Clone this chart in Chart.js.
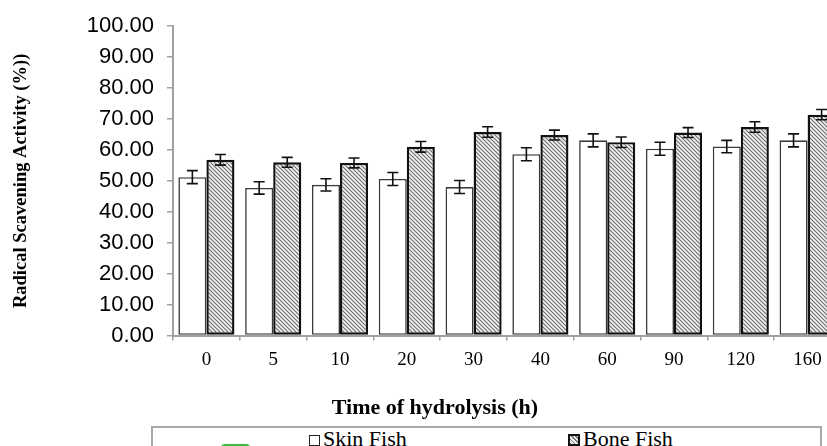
<!DOCTYPE html>
<html>
<head>
<meta charset="utf-8">
<script src="https://cdn.jsdelivr.net/npm/chart.js@4/dist/chart.umd.min.js"></script>
<style>
  html, body { margin: 0; padding: 0; background: #fff; width: 827px; height: 446px; overflow: hidden; }
  #wrap { position: absolute; left: 0; top: 0; width: 860px; height: 446px; }
  #xtitle { position: absolute; top: 394px; left: 235px; width: 400px; text-align: center;
            font: bold 22px "Liberation Serif", "Times New Roman", serif; line-height: 26px; color: #000; }
  #legend { position: absolute; left: 151px; top: 426px; width: 667px; height: 40px;
            border: 2px solid #a8a8a8; background: #fff; }
  .litem { position: absolute; top: -0.5px; font: 22px "Liberation Serif", "Times New Roman", serif;
           line-height: 22px; color: #000; white-space: nowrap; }
  .mk { display: inline-block; width: 9px; height: 9px; margin-right: 3px; vertical-align: 0px; }
  #mk1 { border: 1.5px solid #222; background: #fff; }
  #mk2 { border: 2px solid #111; width: 8px; height: 8px;
         background: repeating-linear-gradient(45deg, #777 0 1.2px, #f0f0f0 1.2px 3px); }
  #green { position: absolute; left: 68px; top: 16px; width: 29px; height: 10px;
           background: #3cbc3c; border-radius: 4px; }
</style>
</head>
<body>
<div id="wrap"><canvas id="c" width="860" height="446"></canvas></div>
<div id="xtitle">Time of hydrolysis (h)</div>
<div id="legend">
  <div id="green"></div>
  <span class="litem" style="left:156px;"><span class="mk" id="mk1"></span>Skin Fish</span>
  <span class="litem" style="left:415px;"><span class="mk" id="mk2"></span>Bone Fish</span>
</div>
<script>
// ---- data ----
const categories = ['0', '5', '10', '20', '30', '40', '60', '90', '120', '160'];
const skinFish   = [51.2, 47.7, 48.7, 50.6, 48.0, 58.6, 63.1, 60.4, 61.1, 63.1];
const boneFish   = [56.8, 56.0, 55.8, 61.0, 65.8, 64.8, 62.5, 65.6, 67.4, 71.4];
const skinErr    = [2.1, 2.0, 2.0, 2.1, 2.1, 2.1, 2.1, 2.1, 2.0, 2.1];
const boneErr    = [1.7, 1.6, 1.6, 1.7, 1.7, 1.6, 1.7, 1.6, 1.7, 1.65];
const yTicks     = [0, 10, 20, 30, 40, 50, 60, 70, 80, 90, 100];

// hatch pattern for Bone Fish
function makeHatch() {
  const s = 4;
  const c = document.createElement('canvas');
  c.width = s; c.height = s;
  const g = c.getContext('2d');
  g.fillStyle = '#f4f4f4';
  g.fillRect(0, 0, s, s);
  g.strokeStyle = '#6e6e6e';
  g.lineWidth = 1.15;
  g.beginPath();
  g.moveTo(-1, -1); g.lineTo(s + 1, s + 1);
  g.moveTo(-1, s - 1); g.lineTo(1, s + 1);
  g.moveTo(s - 1, -1); g.lineTo(s + 1, 1);
  g.stroke();
  return g.createPattern(c, 'repeat');
}
const ctx = document.getElementById('c').getContext('2d');
const hatch = makeHatch();

const errors = [skinErr, boneErr];
const errorBarPlugin = {
  id: 'errorBars',
  afterDatasetsDraw(chart) {
    const g = chart.ctx;
    const y = chart.scales.y;
    g.save();
    g.strokeStyle = '#111';
    g.lineWidth = 1.6;
    chart.data.datasets.forEach((ds, i) => {
      const meta = chart.getDatasetMeta(i);
      meta.data.forEach((el, j) => {
        const v = ds.data[j], e = errors[i][j];
        const x = el.x;
        const yHi = y.getPixelForValue(v + e);
        const yLo = y.getPixelForValue(v - e);
        g.beginPath();
        g.moveTo(x, yHi); g.lineTo(x, yLo);
        g.moveTo(x - 5.5, yHi); g.lineTo(x + 5.5, yHi);
        g.moveTo(x - 5.5, yLo); g.lineTo(x + 5.5, yLo);
        g.stroke();
      });
    });
    g.restore();
  }
};

new Chart(ctx, {
  type: 'bar',
  data: {
    labels: categories,
    datasets: [
      { label: 'Skin Fish', data: skinFish, backgroundColor: '#ffffff', borderColor: '#3a3a3a',
        borderWidth: 1.6, borderSkipped: false, barPercentage: 1.0, categoryPercentage: 0.84 },
      { label: 'Bone Fish', data: boneFish, backgroundColor: hatch, borderColor: '#111111',
        borderWidth: 2.4, borderSkipped: false, barPercentage: 1.0, categoryPercentage: 0.84 }
    ]
  },
  options: {
    responsive: false,
    animation: false,
    events: [],
    layout: { padding: { left: 0, top: 22, right: 19, bottom: 0 } },
    plugins: { legend: { display: false }, tooltip: { enabled: false }, title: { display: false } },
    scales: {
      x: {
        grid: { display: true, drawOnChartArea: false, drawTicks: true, tickLength: 5, color: '#a0a0a0', lineWidth: 1.5, offset: true },
        border: { display: true, color: '#a0a0a0', width: 2 },
        ticks: { color: '#000', padding: 8, font: { family: '"Liberation Serif", "Times New Roman", serif', size: 19 } },
        afterFit(scale) { scale.height = 110.5; }
      },
      y: {
        min: 0, max: 100,
        afterBuildTicks(scale) { scale.ticks = yTicks.map(v => ({ value: v })); },
        grid: { display: true, drawOnChartArea: false, drawTicks: true, tickLength: 6, color: '#a0a0a0', lineWidth: 1.5 },
        border: { display: true, color: '#a0a0a0', width: 2 },
        ticks: { color: '#000', padding: 13, callback: v => Number(v).toFixed(2),
                 font: { family: '"Liberation Sans", Arial, sans-serif', size: 22 } },
        title: { display: true, text: 'Radical Scavening Activity (%))', color: '#000',
                 padding: { top: 10.5, bottom: 0 },
                 font: { family: '"Liberation Serif", "Times New Roman", serif', size: 18.5, weight: 'bold' } },
        afterFit(scale) { scale.width = 173; }
      }
    }
  },
  plugins: [errorBarPlugin]
});
</script>
</body>
</html>
